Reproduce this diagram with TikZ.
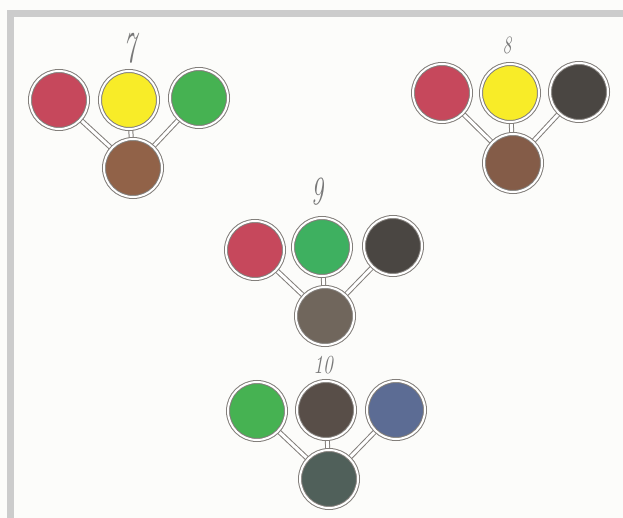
\documentclass[tikz,border=0pt]{standalone}
\usetikzlibrary{backgrounds}
\definecolor{paper}{RGB}{252,252,250}
\definecolor{framegray}{RGB}{204,204,204}
\definecolor{ringgray}{RGB}{130,126,122}
\definecolor{labgray}{RGB}{120,120,120}
\definecolor{cred}{RGB}{198,72,92}
\definecolor{cyellow}{RGB}{248,236,40}
\definecolor{cgreen}{RGB}{70,178,82}
\definecolor{cgreenb}{RGB}{62,176,96}
\definecolor{cbrown}{RGB}{145,98,72}
\definecolor{cbrownb}{RGB}{132,92,72}
\definecolor{cblack}{RGB}{74,70,66}
\definecolor{cgraybrown}{RGB}{112,102,92}
\definecolor{cdark}{RGB}{88,78,72}
\definecolor{cblue}{RGB}{92,108,148}
\definecolor{cteal}{RGB}{80,96,90}
\tikzset{
  disc/.style={circle, minimum size=58pt, inner sep=0pt, outer sep=0pt,
    draw=ringgray, line width=1pt, double=white, double distance=2pt, fill=#1},
  conn/.style={draw=ringgray, line width=1pt, double=white, double distance=3pt},
  numlab/.style={text=labgray, font=\itshape\fontsize{#1}{#1}\selectfont, inner sep=0pt}
}
\begin{document}
\begin{tikzpicture}[x=1pt,y=-1pt]
\useasboundingbox (0,0) rectangle (623,518);
% group 7
\node[numlab=44] (l7) at (130,48) {\scalebox{0.6}[1]{7}};
\node[disc=cred] (r7) at (59,100) {};
\node[disc=cyellow] (y7) at (129,100) {};
\node[disc=cgreen] (g7) at (199,98) {};
\node[disc=cbrown] (b7) at (133,168) {};
% group 8
\node[numlab=25] (l8) at (507,45) {\scalebox{0.7}[1]{8}};
\node[disc=cred] (r8) at (442,93) {};
\node[disc=cyellow] (y8) at (510,93) {};
\node[disc=cblack] (k8) at (579,92) {};
\node[disc=cbrownb] (b8) at (513,163) {};
% group 9
\node[numlab=40] (l9) at (317,192) {\scalebox{0.6}[1]{9}};
\node[disc=cred] (r9) at (255,250) {};
\node[disc=cgreenb] (g9) at (322,247) {};
\node[disc=cblack] (k9) at (393,246) {};
\node[disc=cgraybrown] (b9) at (325,316) {};
% group 10
\node[numlab=26] (l10) at (323,365) {\scalebox{0.75}[1]{10}};
\node[disc=cgreen] (g10) at (257,411) {};
\node[disc=cdark] (k10) at (326,410) {};
\node[disc=cblue] (u10) at (396,410) {};
\node[disc=cteal] (t10) at (329,479) {};
\begin{scope}[on background layer]
  \fill[paper] (0,0) rectangle (623,518);
  \fill[framegray] (7,10) rectangle (623,17);
  \fill[framegray] (7,10) rectangle (14,518);
  \draw[conn] (r7.center) -- (b7.center);
  \draw[conn] (y7.center) -- (b7.center);
  \draw[conn] (g7.center) -- (b7.center);
  \draw[conn] (r8.center) -- (b8.center);
  \draw[conn] (y8.center) -- (b8.center);
  \draw[conn] (k8.center) -- (b8.center);
  \draw[conn] (r9.center) -- (b9.center);
  \draw[conn] (g9.center) -- (b9.center);
  \draw[conn] (k9.center) -- (b9.center);
  \draw[conn] (g10.center) -- (t10.center);
  \draw[conn] (k10.center) -- (t10.center);
  \draw[conn] (u10.center) -- (t10.center);
\end{scope}
\end{tikzpicture}
\end{document}
